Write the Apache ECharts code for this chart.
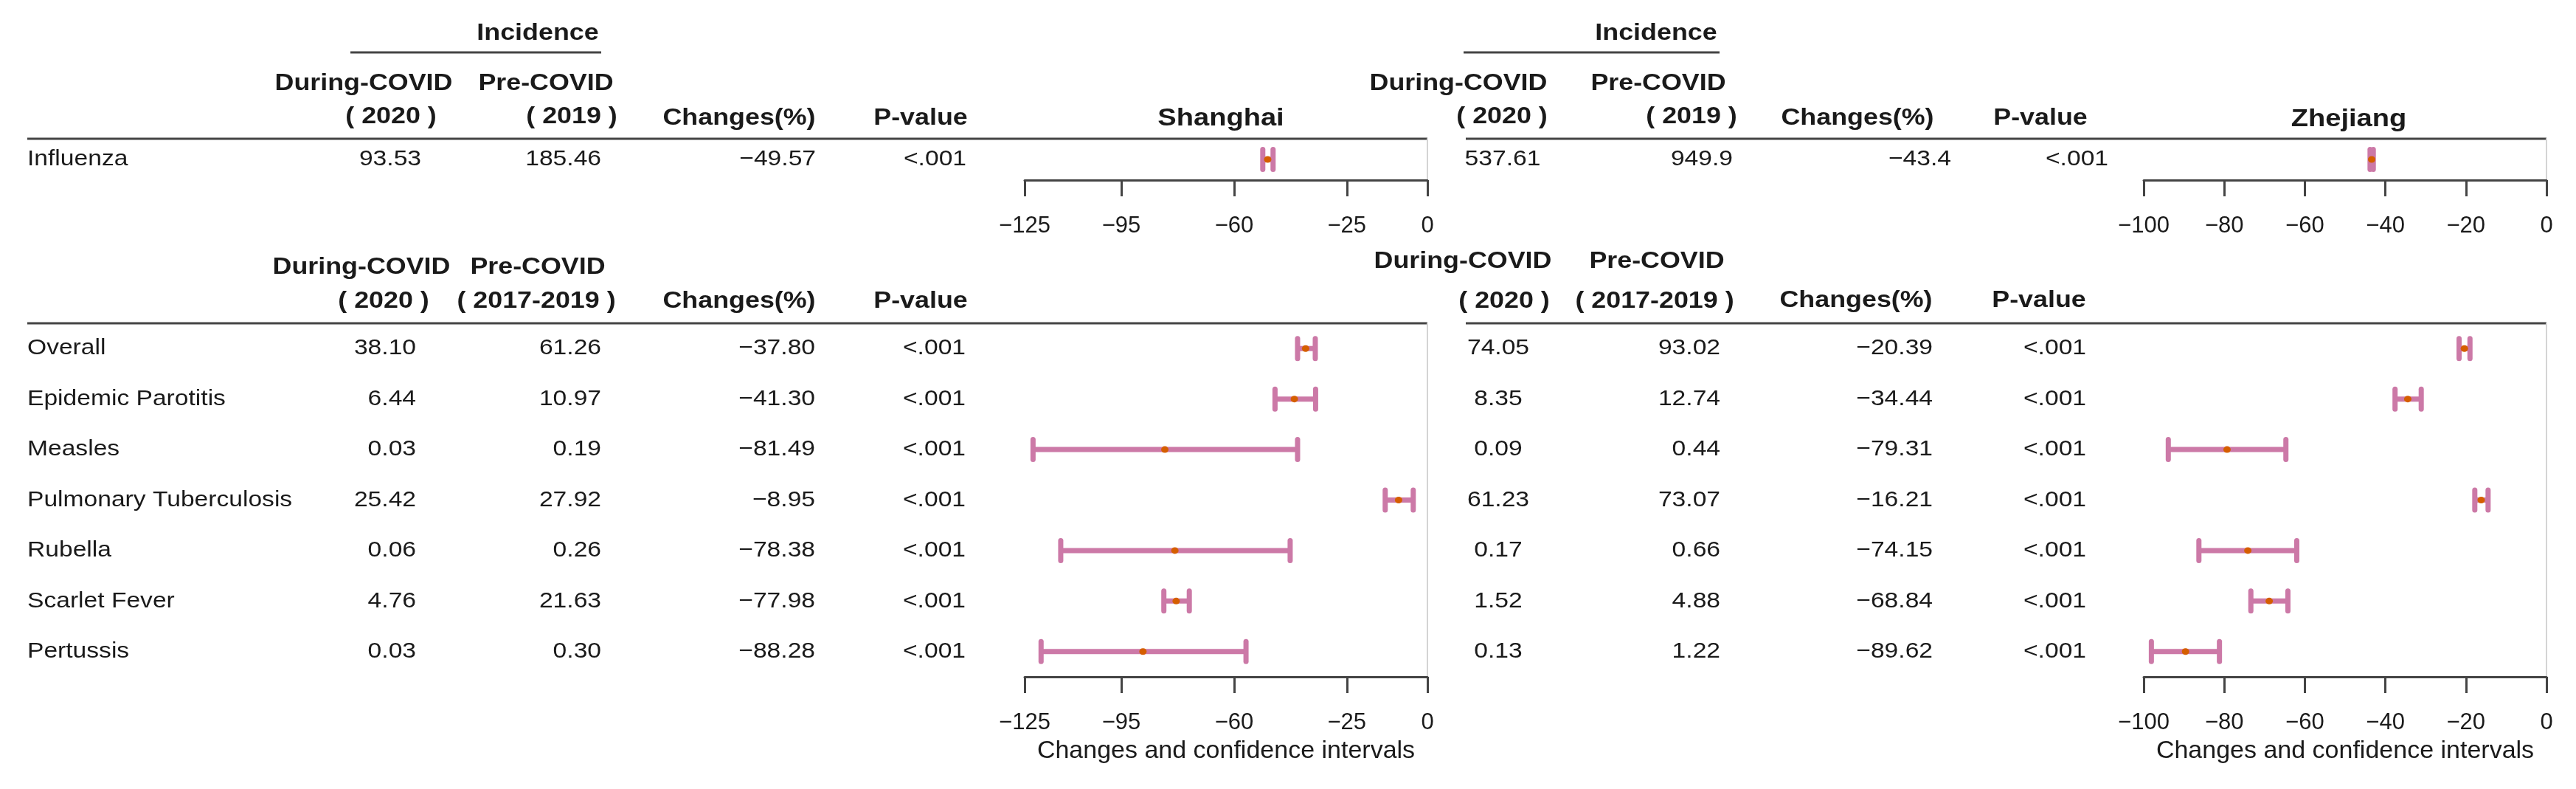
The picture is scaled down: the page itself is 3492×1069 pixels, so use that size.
<!DOCTYPE html>
<html>
<head>
<meta charset="utf-8">
<script src="https://cdn.jsdelivr.net/npm/echarts@6/dist/echarts.min.js"></script>
<style>
html,body{margin:0;padding:0;background:#ffffff;}
#chart{width:3492px;height:1069px;}
</style>
</head>
<body>
<div id="chart"></div>
<script>
// ---------------- DATA ----------------
const rowsTop = ['Influenza'];
const rowsMain = ['Overall', 'Epidemic Parotitis', 'Measles', 'Pulmonary Tuberculosis', 'Rubella', 'Scarlet Fever', 'Pertussis'];
const shTicks = [-125, -95, -60, -25, 0];
const zjTicks = [-100, -80, -60, -40, -20, 0];

// Shanghai - influenza (2020 vs 2019)
const shTopDuring = ['93.53'];
const shTopPre = ['185.46'];
const shTopChange = ['-49.57'];
const shTopP = ['<.001'];
const shTopLow = [-51.1];
const shTopHigh = [-47.9];

// Shanghai - other diseases (2020 vs 2017-2019)
const shDuring = ['38.10', '6.44', '0.03', '25.42', '0.06', '4.76', '0.03'];
const shPre = ['61.26', '10.97', '0.19', '27.92', '0.26', '21.63', '0.30'];
const shChange = ['-37.80', '-41.30', '-81.49', '-8.95', '-78.38', '-77.98', '-88.28'];
const shP = ['<.001', '<.001', '<.001', '<.001', '<.001', '<.001', '<.001'];
const shLow = [-40.3, -47.3, -122.4, -13.1, -113.8, -81.8, -119.9];
const shHigh = [-34.8, -34.7, -40.3, -4.4, -42.6, -73.9, -56.3];

// Zhejiang - influenza
const zjTopDuring = ['537.61'];
const zjTopPre = ['949.9'];
const zjTopChange = ['-43.4'];
const zjTopP = ['<.001'];
const zjTopLow = [-43.8];
const zjTopHigh = [-43.0];

// Zhejiang - other diseases
const zjDuring = ['74.05', '8.35', '0.09', '61.23', '0.17', '1.52', '0.13'];
const zjPre = ['93.02', '12.74', '0.44', '73.07', '0.66', '4.88', '1.22'];
const zjChange = ['-20.39', '-34.44', '-79.31', '-16.21', '-74.15', '-68.84', '-89.62'];
const zjP = ['<.001', '<.001', '<.001', '<.001', '<.001', '<.001', '<.001'];
const zjLow = [-21.7, -37.6, -93.9, -17.8, -86.3, -73.4, -98.1];
const zjHigh = [-19.0, -31.1, -64.7, -14.5, -62.0, -64.2, -81.2];

// ---------------- STYLE / LAYOUT ----------------
const FONT = '"Liberation Sans", Arial, Helvetica, sans-serif';
const PINK = '#CC79A7';
const ORANGE = '#D55E00';
const LINE = '#444444';
const TXT = '#1a1a1a';
const SX = 1.12;   // horizontal stretch of table text
const minus = s => String(s).replace('-', '\u2212');

const chart = echarts.init(document.getElementById('chart'), null, {renderer: 'canvas'});

const grids = [
  {left: 1389, top: 188, width: 546, height: 56, outerBoundsMode: 'none', containLabel: false}, // SH top
  {left: 1389, top: 438, width: 546, height: 479, outerBoundsMode: 'none', containLabel: false}, // SH main
  {left: 2906, top: 188, width: 546, height: 56, outerBoundsMode: 'none', containLabel: false}, // ZJ top
  {left: 2906, top: 438, width: 546, height: 479, outerBoundsMode: 'none', containLabel: false}  // ZJ main
];

function xAxisDef(g, min, ticks, withName) {
  return {
    type: 'value', gridIndex: g, min: min, max: 0, position: 'bottom',
    axisLine: {show: true, onZero: false, lineStyle: {color: LINE, width: 3}},
    axisTick: {show: true, length: 22, lineStyle: {color: LINE, width: 3}, customValues: ticks},
    axisLabel: {show: true, customValues: ticks, margin: 47, fontSize: 31, color: TXT, fontFamily: FONT,
      showMinLabel: true, showMaxLabel: true, hideOverlap: false,
      formatter: v => (v < 0 ? '\u2212' + Math.abs(v) : String(v))},
    splitLine: {show: false},
    name: withName ? 'Changes and confidence intervals' : '',
    nameLocation: 'middle', nameGap: 84, nameMoveOverlap: false,
    nameTextStyle: {fontSize: 34, color: TXT, fontFamily: FONT}
  };
}
function yAxisDef(g, rows) {
  return {
    type: 'category', gridIndex: g, data: rows, inverse: true, position: 'right',
    axisLine: {show: true, onZero: false, lineStyle: {color: '#d4d4d4', width: 2}},
    axisTick: {show: false}, axisLabel: {show: false}, splitLine: {show: false}
  };
}

function ciSeries(g, low, high) {
  return {
    type: 'custom', xAxisIndex: g, yAxisIndex: g, clip: false, silent: true, z: 2,
    data: low.map((l, i) => [l, high[i], i]),
    encode: {x: [0, 1], y: 2},
    renderItem: (params, api) => {
      const r = api.value(2);
      const p1 = api.coord([api.value(0), r]);
      const p2 = api.coord([api.value(1), r]);
      const h = 13.5;
      return {type: 'group', children: [
        {type: 'line', shape: {x1: p1[0], y1: p1[1], x2: p2[0], y2: p2[1]}, style: {stroke: PINK, lineWidth: 7}},
        {type: 'line', shape: {x1: p1[0], y1: p1[1] - h, x2: p1[0], y2: p1[1] + h}, style: {stroke: PINK, lineWidth: 7, lineCap: 'round'}},
        {type: 'line', shape: {x1: p2[0], y1: p2[1] - h, x2: p2[0], y2: p2[1] + h}, style: {stroke: PINK, lineWidth: 7, lineCap: 'round'}}
      ]};
    }
  };
}
function pointSeries(g, change) {
  return {
    type: 'scatter', xAxisIndex: g, yAxisIndex: g, z: 5, silent: true,
    symbol: 'circle', symbolSize: [10, 9],
    itemStyle: {color: ORANGE, opacity: 1},
    data: change.map((c, i) => [parseFloat(c), i])
  };
}
// table cells drawn per row on the row's category position
function tableSeries(g, cols) {
  const n = cols[0].values.length;
  return {
    type: 'custom', xAxisIndex: g, yAxisIndex: g, clip: false, silent: true, z: 1,
    data: Array.from({length: n}, (_, i) => [0, i]),
    encode: {x: 0, y: 1},
    renderItem: (params, api) => {
      const i = api.value(1);
      const y = api.coord([0, i])[1];
      return {type: 'group', children: cols.map(c => ({
        type: 'text', x: c.x, y: y, scaleX: SX,
        style: {text: c.fmt ? c.fmt(c.values[i]) : c.values[i], x: 0, y: 0, align: c.align, verticalAlign: 'middle',
          fontSize: 30, fontFamily: FONT, fill: TXT}
      }))};
    }
  };
}

// header helpers (graphic component)
function H(text, x, y, opts) {
  opts = opts || {};
  return {type: 'text', x: x, y: y, scaleX: SX, silent: true,
    style: {text: text, x: 0, y: 0, align: opts.align || 'center', verticalAlign: 'middle',
      fontSize: opts.size || 32, fontWeight: opts.weight || 'bold', fontFamily: FONT, fill: TXT}};
}
function L(x1, y1, x2, y2, w, c) {
  return {type: 'line', silent: true, shape: {x1: x1, y1: y1, x2: x2, y2: y2}, style: {stroke: c || LINE, lineWidth: w || 3}};
}

const graphics = [
  // Shanghai headers
  H('Incidence', 729, 45),
  L(475, 71, 815, 71),
  H('During-COVID', 493, 113),
  H('Pre-COVID', 740, 113),
  H('( 2020 )', 530, 158),
  H('( 2019 )', 775, 158),
  H('Changes(%)', 1002, 160),
  H('P-value', 1248, 160),
  H('Shanghai', 1655, 161, {size: 34}),
  L(37, 188, 1935, 188),
  H('During-COVID', 490, 362),
  H('Pre-COVID', 729, 362),
  H('( 2020 )', 520, 408),
  H('( 2017-2019 )', 727, 408),
  H('Changes(%)', 1002, 408),
  H('P-value', 1248, 408),
  L(37, 438, 1935, 438),
  // Zhejiang headers
  H('Incidence', 2245, 45),
  L(1984, 71, 2331, 71),
  H('During-COVID', 1977, 113),
  H('Pre-COVID', 2248, 113),
  H('( 2020 )', 2036, 158),
  H('( 2019 )', 2293, 158),
  H('Changes(%)', 2518, 160),
  H('P-value', 2766, 160),
  H('Zhejiang', 3184, 162, {size: 34}),
  L(1987, 188, 3452, 188),
  H('During-COVID', 1983, 354),
  H('Pre-COVID', 2246, 354),
  H('( 2020 )', 2039, 408),
  H('( 2017-2019 )', 2243, 408),
  H('Changes(%)', 2516, 407),
  H('P-value', 2764, 407),
  L(1987, 438, 3452, 438)
];

const option = {
  backgroundColor: '#ffffff',
  animation: false,
  grid: grids,
  xAxis: [
    xAxisDef(0, -125, shTicks, false),
    xAxisDef(1, -125, shTicks, true),
    xAxisDef(2, -100, zjTicks, false),
    xAxisDef(3, -100, zjTicks, true)
  ],
  yAxis: [
    yAxisDef(0, rowsTop), yAxisDef(1, rowsMain), yAxisDef(2, rowsTop), yAxisDef(3, rowsMain)
  ],
  graphic: graphics,
  series: [
    // tables
    tableSeries(0, [
      {values: rowsTop, x: 37, align: 'left'},
      {values: shTopDuring, x: 571, align: 'right'},
      {values: shTopPre, x: 815, align: 'right'},
      {values: shTopChange, x: 1106, align: 'right', fmt: minus},
      {values: shTopP, x: 1310, align: 'right'}
    ]),
    tableSeries(1, [
      {values: rowsMain, x: 37, align: 'left'},
      {values: shDuring, x: 564, align: 'right'},
      {values: shPre, x: 815, align: 'right'},
      {values: shChange, x: 1105, align: 'right', fmt: minus},
      {values: shP, x: 1309, align: 'right'}
    ]),
    tableSeries(2, [
      {values: zjTopDuring, x: 2037, align: 'center'},
      {values: zjTopPre, x: 2349, align: 'right'},
      {values: zjTopChange, x: 2645, align: 'right', fmt: minus},
      {values: zjTopP, x: 2858, align: 'right'}
    ]),
    tableSeries(3, [
      {values: zjDuring, x: 2031, align: 'center'},
      {values: zjPre, x: 2332, align: 'right'},
      {values: zjChange, x: 2620, align: 'right', fmt: minus},
      {values: zjP, x: 2828, align: 'right'}
    ]),
    // forest marks
    ciSeries(0, shTopLow, shTopHigh), pointSeries(0, shTopChange),
    ciSeries(1, shLow, shHigh), pointSeries(1, shChange),
    ciSeries(2, zjTopLow, zjTopHigh), pointSeries(2, zjTopChange),
    ciSeries(3, zjLow, zjHigh), pointSeries(3, zjChange)
  ]
};
chart.setOption(option);
</script>
</body>
</html>
